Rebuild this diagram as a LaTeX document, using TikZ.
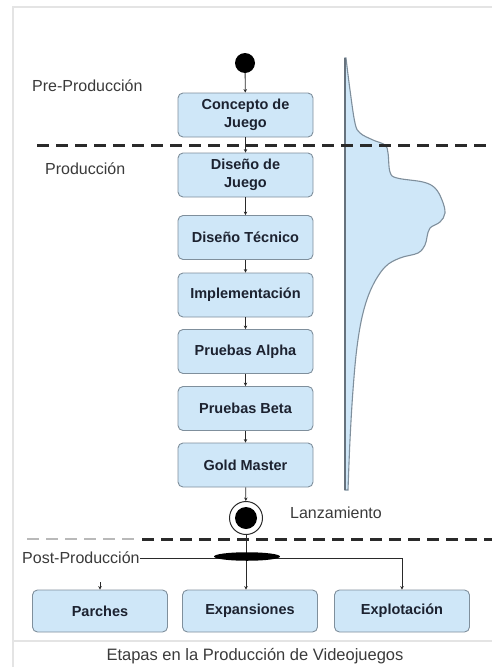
\documentclass[tikz,border=0pt]{standalone}
\usepackage{fontspec}
\setmainfont{Liberation Sans}
\usetikzlibrary{arrows.meta,shapes.geometric}
\definecolor{boxfill}{HTML}{CFE7F8}
\definecolor{boxline}{HTML}{7F8F9C}
\definecolor{txt}{HTML}{1C2230}
\definecolor{lbl}{HTML}{3A3A3A}
\definecolor{frame}{HTML}{E4E4E4}
\definecolor{dash}{HTML}{2A2A2A}
\tikzset{
  stepbox/.style={draw=boxline, fill=boxfill, rounded corners=5pt, line width=0.9pt,
    minimum width=135pt, minimum height=44pt, inner sep=0pt, align=center,
    text=txt, font=\fontsize{14.5}{17.5}\selectfont\bfseries},
  lowbox/.style={stepbox, minimum height=42pt},
  phase/.style={anchor=west, inner sep=0pt, text=lbl, font=\fontsize{16}{19}\selectfont},
  arr/.style={draw=dash, line width=0.8pt, -{Stealth[length=3.5pt,width=3.5pt]}},
  sep/.style={draw=dash, line width=3pt, dash pattern=on 12pt off 7pt},
  forkbar/.style={ellipse, fill=black, minimum width=66pt, minimum height=8.5pt, inner sep=0pt},
}
\begin{document}
\begin{tikzpicture}[x=1pt,y=-1pt]
\useasboundingbox (0,0) rectangle (492,667);
% frame
\draw[frame, line width=1.5pt] (13,667) -- (13,7) -- (492,7);
\draw[frame, line width=1.2pt] (13,641) -- (492,641);

% distribution curve
\draw[fill=boxfill, draw=boxline, line width=1.1pt]
  plot[smooth, tension=0.6] coordinates {
  (346,58) (350,90) (355,123) (360,133) (373,140) (385,145) (388,153) (390,172)
  (397,178) (423,182) (435,188) (442,200) (445,213) (440,222) (430,228) (427,237)
  (425,245) (418,253) (400,258) (385,267) (372,287) (363,313) (357,347) (353,390)
  (350,440) (348,490)} -- (345,490) -- (345,58) -- cycle;
\draw[draw=boxline!80!black, line width=1.2pt] (345,58) -- (345,490);

% start
\node[circle, fill=black, minimum size=20pt, inner sep=0pt] (start) at (245,63) {};

% main boxes
\node[stepbox] (c1) at (245.5,115) {Concepto de\\Juego};
\node[stepbox] (c2) at (245.5,175) {Diseño de\\Juego};
\node[stepbox] (c3) at (245.5,237.5) {Diseño Técnico};
\node[stepbox] (c4) at (245.5,295) {Implementación};
\node[stepbox] (c5) at (245.5,351.5) {Pruebas Alpha};
\node[stepbox] (c6) at (245.5,408.5) {Pruebas Beta};
\node[stepbox] (c7) at (245.5,465) {Gold Master};

% end node
\node[circle, draw=dash, line width=1pt, fill=white, minimum size=33pt, inner sep=0pt] (endc) at (246,518) {};
\node[circle, fill=black, minimum size=22pt, inner sep=0pt] (endin) at (endc) {};

% bottom boxes
\node[lowbox] (parches) at (100,611) {Parches};
\node[lowbox] (expans) at (250,611) {Expansiones};
\node[lowbox] (explot) at (402,611) {Explotación};

% labels
\node[phase] (pre) at (32,86) {Pre-Producción};
\node[phase] (prod) at (45,169) {Producción};
\node[phase] (lanz) at (290,513) {Lanzamiento};
\node[phase] (post) at (22,558) {Post-Producción};
\node[inner sep=0pt, text=lbl, font=\fontsize{16.5}{19}\selectfont] (cap) at (255,656) {Etapas en la Producción de Videojuegos};

% separators
\draw[sep] (37,145) -- (492,145);
\draw[sep, draw=gray!55, line width=2.2pt] (27,539) -- (140,539);
\draw[sep] (142,539) -- (492,539);

% connectors
\draw[arr] (start) -- (c1);
\draw[arr] (c1) -- (c2);
\draw[arr] (c2) -- (c3);
\draw[arr] (c3) -- (c4);
\draw[arr] (c4) -- (c5);
\draw[arr] (c5) -- (c6);
\draw[arr] (c6) -- (c7);
\draw[arr] (c7) -- (endc);
\draw[arr] (endc.south) -- (endc.south |- expans.north);
\draw[arr] (post.east) -| (explot.north);
\coordinate (pstub) at (100,582);
\draw[arr] (pstub) -- (parches.north);

% fork bar (drawn on top of the lines)
\node[forkbar] (fork) at (247,556.5) {};
\end{tikzpicture}
\end{document}
